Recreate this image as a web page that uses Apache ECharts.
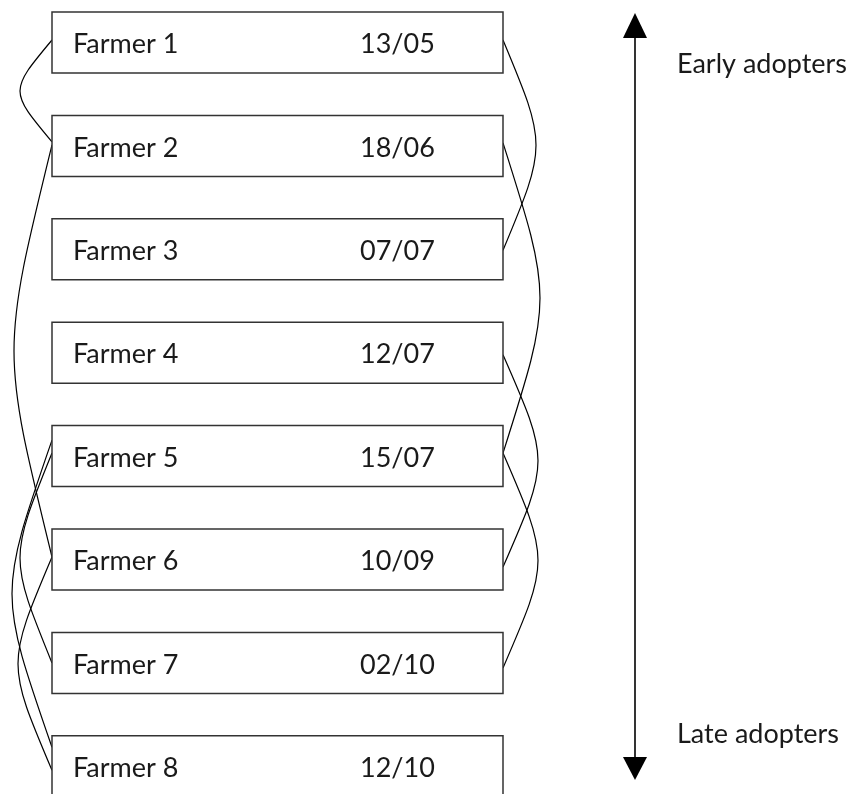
<!DOCTYPE html>
<html>
<head>
<meta charset="utf-8">
<script src="https://cdn.jsdelivr.net/npm/echarts@6/dist/echarts.min.js"></script>
<style>
html, body { margin: 0; padding: 0; background: #fff; }
#chart { width: 855px; height: 794px; }
</style>
</head>
<body>
<div id="chart"></div>
<script>
// farmers in order of adoption, with adoption date
var farmers = ['Farmer 1', 'Farmer 2', 'Farmer 3', 'Farmer 4', 'Farmer 5', 'Farmer 6', 'Farmer 7', 'Farmer 8'];
var dates = ['13/05', '18/06', '07/07', '12/07', '15/07', '10/09', '02/10', '12/10'];
// connections between farmers (0-based index), drawn on the left / right of the boxes
var leftLinks = [[0, 1], [1, 5], [4, 6], [4, 7], [5, 7]];
var rightLinks = [[0, 2], [1, 4], [3, 5], [4, 6]];
var arrowLabels = ['Early adopters', 'Late adopters'];

// --- layout / style only below ---
// attach point shift (px from box middle) for [from, to], and how far the curve bows out
var leftShape = [[-2.5, -4, 32], [-1, -2.5, 38], [-3, 0, 32], [-16, -19, 40], [-2.5, 4, 34]];
var rightShape = [[-2.5, 1, 33], [-3, -3, 37], [2, 7.5, 35], [-3, 5, 35]];

var BOX_L = 52, BOX_R = 503, BOX_HALF = 0.295;
var PITCH = 103.4, FIRST_MID = 42.5;
var FONT = 'Lato, "Open Sans", sans-serif';

var boxData = farmers.map(function (f, i) { return [i]; });
var linkData = [];
leftLinks.forEach(function (l, i) {
  linkData.push([l[0], l[1], -1, leftShape[i][0], leftShape[i][1], leftShape[i][2]]);
});
rightLinks.forEach(function (l, i) {
  linkData.push([l[0], l[1], 1, rightShape[i][0], rightShape[i][1], rightShape[i][2]]);
});

function renderBox(params, api) {
  var i = api.value(0);
  var tl = api.coord([BOX_L, i - BOX_HALF]);
  var br = api.coord([BOX_R, i + BOX_HALF]);
  var mid = api.coord([0, i])[1];
  var dx = api.coord([360, i])[0];
  return {
    type: 'group',
    children: [
      {
        type: 'rect',
        shape: { x: tl[0], y: tl[1], width: br[0] - tl[0], height: br[1] - tl[1] },
        style: { fill: '#fff', stroke: '#333', lineWidth: 1.5 }
      },
      {
        type: 'text',
        style: { text: farmers[i], x: tl[0] + 21, y: mid + 2, fill: '#1a1a1a',
          font: '27px ' + FONT, align: 'left', verticalAlign: 'middle' }
      },
      {
        type: 'text',
        style: { text: dates[i], x: dx, y: mid + 2, fill: '#1a1a1a',
          font: '27px ' + FONT, align: 'left', verticalAlign: 'middle' }
      }
    ]
  };
}

function renderLink(params, api) {
  var from = api.value(0), to = api.value(1), side = api.value(2);
  var x = side < 0 ? BOX_L : BOX_R;
  var p1 = api.coord([x, from]);
  var p2 = api.coord([x, to]);
  p1[1] += api.value(3);
  p2[1] += api.value(4);
  var a = api.value(5) / 0.75;
  var midY = (p1[1] + p2[1]) / 2;
  return {
    type: 'bezierCurve',
    shape: {
      x1: p1[0], y1: p1[1], x2: p2[0], y2: p2[1],
      cpx1: p1[0] + side * a, cpy1: midY,
      cpx2: p2[0] + side * a, cpy2: midY
    },
    style: { stroke: '#000', fill: null, lineWidth: 1.2 }
  };
}

var chart = echarts.init(document.getElementById('chart'));
chart.setOption({
  animation: false,
  grid: { left: 0, right: 0, top: 0, bottom: 0 },
  xAxis: { type: 'value', min: 0, max: 855, show: false },
  yAxis: {
    type: 'value', inverse: true, show: false,
    min: -FIRST_MID / PITCH, max: (794 - FIRST_MID) / PITCH
  },
  graphic: [
    { type: 'line', shape: { x1: 635, y1: 36, x2: 635, y2: 759 }, style: { stroke: '#000', lineWidth: 1.6 } },
    { type: 'polygon', shape: { points: [[635, 13], [623, 38], [647, 38]] }, style: { fill: '#000' } },
    { type: 'polygon', shape: { points: [[635, 780], [623, 757], [647, 757]] }, style: { fill: '#000' } },
    { type: 'text', style: { text: arrowLabels[0], x: 677, y: 64, fill: '#1a1a1a',
        font: '27px ' + FONT, align: 'left', verticalAlign: 'middle' } },
    { type: 'text', style: { text: arrowLabels[1], x: 677, y: 734, fill: '#1a1a1a',
        font: '27px ' + FONT, align: 'left', verticalAlign: 'middle' } }
  ],
  series: [
    {
      type: 'custom',
      renderItem: renderLink,
      data: linkData,
      clip: false,
      silent: true
    },
    {
      type: 'custom',
      renderItem: renderBox,
      data: boxData,
      clip: false,
      silent: true
    }
  ]
});
</script>
</body>
</html>
